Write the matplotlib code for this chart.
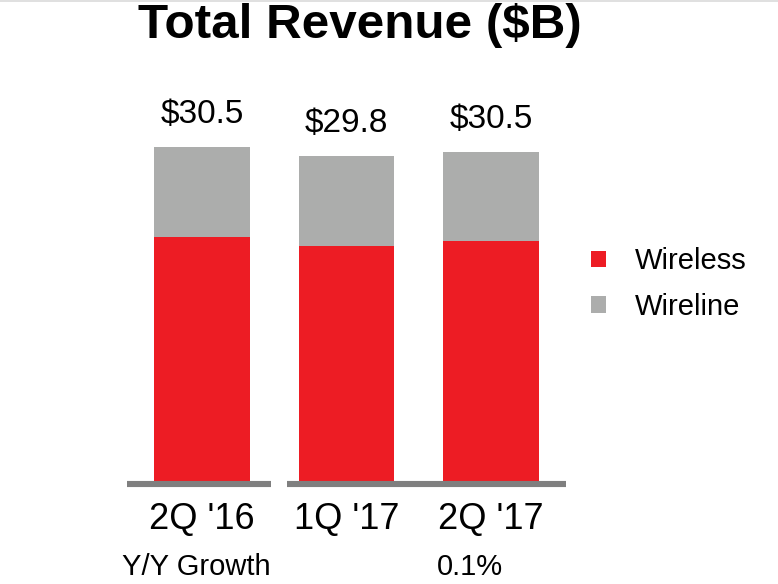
import matplotlib.pyplot as plt
from matplotlib.lines import Line2D

plt.rcParams['font.family'] = ['Liberation Sans', 'DejaVu Sans']

quarters = ["2Q '16", "1Q '17", "2Q '17"]
wireless = [22.3, 21.5, 21.9]
wireline = [8.2, 8.2, 8.15]
total_labels = ['$30.5', '$29.8', '$30.5']
growth_label = '0.1%'

RED = '#ED1C24'
GRAY = '#ACADAC'
BASE = '#7F7F7F'

W, H = 778, 584
fig = plt.figure(figsize=(W / 100, H / 100), dpi=100)

# thin rule along the top edge
fig.add_artist(Line2D([0, 1], [0.999, 0.999], color='#DADADA', lw=1.2))

# axes placed in pixel terms: bars bottom at y=481 px, 10.95 px per $B
px_per_b = 10.951
ax = fig.add_axes([127 / W, (H - 481) / H, 439 / W, 381 / H])
ax.set_xlim(-0.519, 2.519)
ax.set_ylim(0, 381 / px_per_b)
ax.axis('off')

x = range(len(quarters))
ax.bar(x, wireless, width=0.66, color=RED, label='Wireless')
ax.bar(x, wireline, width=0.66, bottom=wireless, color=GRAY, label='Wireline')

# split baseline under the bars
ax.hlines(-0.25, -0.519, 0.4775, color=BASE, lw=4.4, clip_on=False)
ax.hlines(-0.25, 0.588, 2.519, color=BASE, lw=4.4, clip_on=False)

for i, q in enumerate(quarters):
    top = wireless[i] + wireline[i]
    ax.annotate(total_labels[i], (i, top), xytext=(0, 17.3), textcoords='offset points',
                ha='center', va='baseline', fontsize=24, annotation_clip=False)
    ax.annotate(q, (i, 0), xytext=(0, -34.6), textcoords='offset points',
                ha='center', va='baseline', fontsize=26, annotation_clip=False)

fig.text(122 / W, 1 - 575 / H, 'Y/Y Growth', ha='left', va='baseline', fontsize=21)
fig.text(437 / W, 1 - 575 / H, growth_label, ha='left', va='baseline', fontsize=21)

fig.text(360 / W, 1 - 38 / H, 'Total Revenue ($B)', ha='center', va='baseline',
         fontsize=35.6, fontweight='bold')

ax.legend(loc='center left', bbox_to_anchor=(591 / W, 1 - 284 / H),
          bbox_transform=fig.transFigure, frameon=False, borderpad=0, borderaxespad=0,
          handlelength=0.5, handleheight=0.5, handletextpad=1.0, labelspacing=0.6,
          fontsize=21)

fig.savefig('out.png', dpi=100)
